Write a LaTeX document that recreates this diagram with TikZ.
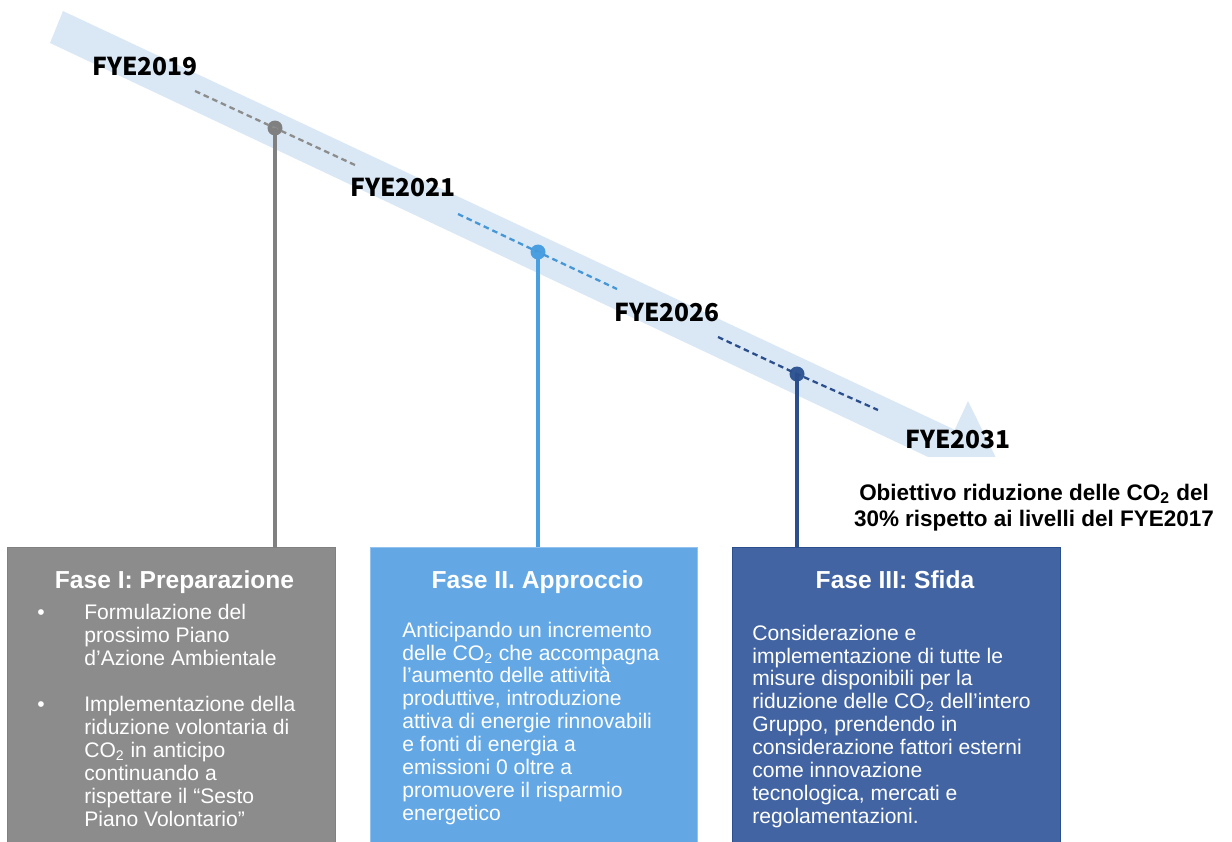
\documentclass[tikz,border=0pt]{standalone}
\usepackage{fontspec}
\setmainfont{Liberation Sans}
\newfontfamily\yearfont{Noto Sans CJK JP}
\usepackage{xcolor}
\usetikzlibrary{positioning,calc}

\definecolor{banda}{HTML}{DAE8F6}
\definecolor{grigio}{HTML}{8C8C8C}
\definecolor{grigiolinea}{HTML}{808080}
\definecolor{azzurro}{HTML}{63A8E5}
\definecolor{azzurrolinea}{HTML}{4A9FE0}
\definecolor{blu}{HTML}{4264A3}
\definecolor{blulinea}{HTML}{2B4E8C}

\begin{document}
\begin{tikzpicture}[x=0.02cm, y=-0.02cm,
        anno/.style={font=\yearfont\bfseries\fontsize{14}{16}\selectfont, inner sep=0pt, anchor=base},
        fase/.style={rectangle, anchor=north, minimum width=6.56cm, minimum height=5.98cm, line width=0.6pt},
        titolo/.style={font=\bfseries\fontsize{14}{16}\selectfont, text=white, inner sep=0pt, anchor=base},
        corpo/.style={font=\fontsize{12}{13}\selectfont, text=white, align=left, inner sep=0pt, anchor=base west},
        punto/.style={circle, inner sep=0pt, minimum size=0.3cm},
        tratto/.style={dashed, line width=1.3pt, dash pattern=on 3.2pt off 2.2pt},
        asta/.style={line width=2pt}]
    \useasboundingbox (0,0) rectangle (1232,842);
    \begin{scope}
        \clip (0,0) rectangle (1232,456);
        \fill[banda] (63,11) -- (954.7,429.7) -- (968,401) -- (1003,472)
            -- (926,491) -- (939.3,462.3) -- (50,43) -- cycle;
    \end{scope}

    \node[anno] (anno2019) at (145,75) {FYE2019};
    \node[anno] (anno2021) at (403,196) {FYE2021};
    \node[anno] (anno2026) at (667,321) {FYE2026};
    \node[anno] (anno2031) at (958,448) {FYE2031};

    \node[fase, fill=grigio, draw=grigiolinea] (fase1) at (171.5,547) {};
    \node[fase, fill=azzurro, draw=azzurro!70!white] (fase2) at (534,547) {};
    \node[fase, fill=blu, draw=blulinea] (fase3) at (896.5,547) {};

    \node[punto, fill=grigiolinea] (tappa1) at (275,128) {};
    \node[punto, fill=azzurrolinea] (tappa2) at (538,252) {};
    \node[punto, fill=blulinea!90!azzurro] (tappa3) at (797,374) {};

    \draw[tratto, grigiolinea!90!white] ($(tappa1)+(-80,-37)$) coordinate (inizio1) -- (tappa1.center) -- ($(tappa1)+(80,37)$) coordinate (fine1);
    \draw[tratto, azzurrolinea!90!blulinea] ($(tappa2)+(-80,-38)$) coordinate (inizio2) -- (tappa2.center) -- ($(tappa2)+(79,37)$) coordinate (fine2);
    \draw[tratto, blulinea] ($(tappa3)+(-79,-37)$) coordinate (inizio3) -- (tappa3.center) -- ($(tappa3)+(81,36)$) coordinate (fine3);

    \draw[asta, grigiolinea] (tappa1.center) -- (tappa1 |- fase1.north);
    \draw[asta, azzurrolinea] (tappa2.center) -- (tappa2 |- fase2.north);
    \draw[asta, blulinea] (tappa3.center) -- (tappa3 |- fase3.north);

    \node[font=\bfseries\fontsize{12.8}{14.7}\selectfont, align=center, inner sep=0pt, anchor=base] (obiettivo) at (1034,526)
        {Obiettivo riduzione delle CO\textsubscript{2} del\\30\% rispetto ai livelli del FYE2017};

    \node[titolo] (titolo1) at (174.5,588) {Fase I: Preparazione};
    \node[titolo] (titolo2) at (537.5,588) {Fase II. Approccio};
    \node[titolo] (titolo3) at (895,588) {Fase III: Sfida};

    \node[corpo, anchor=base] (pallino1) at (41,619) {•};
    \node[corpo] (voce1) at (84,665) {Formulazione del\\prossimo Piano\\d’Azione Ambientale};
    \node[corpo, anchor=base] (pallino2) at (41,711) {•};
    \node[corpo] (voce2) at (84,826) {Implementazione della\\riduzione volontaria di\\CO\textsubscript{2} in anticipo\\continuando a\\rispettare il “Sesto\\Piano Volontario”};

    \node[corpo] (testo2) at (402,820) {Anticipando un incremento\\delle CO\textsubscript{2} che accompagna\\l’aumento delle attività\\produttive, introduzione\\attiva di energie rinnovabili\\e fonti di energia a\\emissioni 0 oltre a\\promuovere il risparmio\\energetico};
    \node[corpo] (testo3) at (752,823) {Considerazione e\\implementazione di tutte le\\misure disponibili per la\\riduzione delle CO\textsubscript{2} dell’intero\\Gruppo, prendendo in\\considerazione fattori esterni\\come innovazione\\tecnologica, mercati e\\regolamentazioni.};
\end{tikzpicture}
\end{document}
